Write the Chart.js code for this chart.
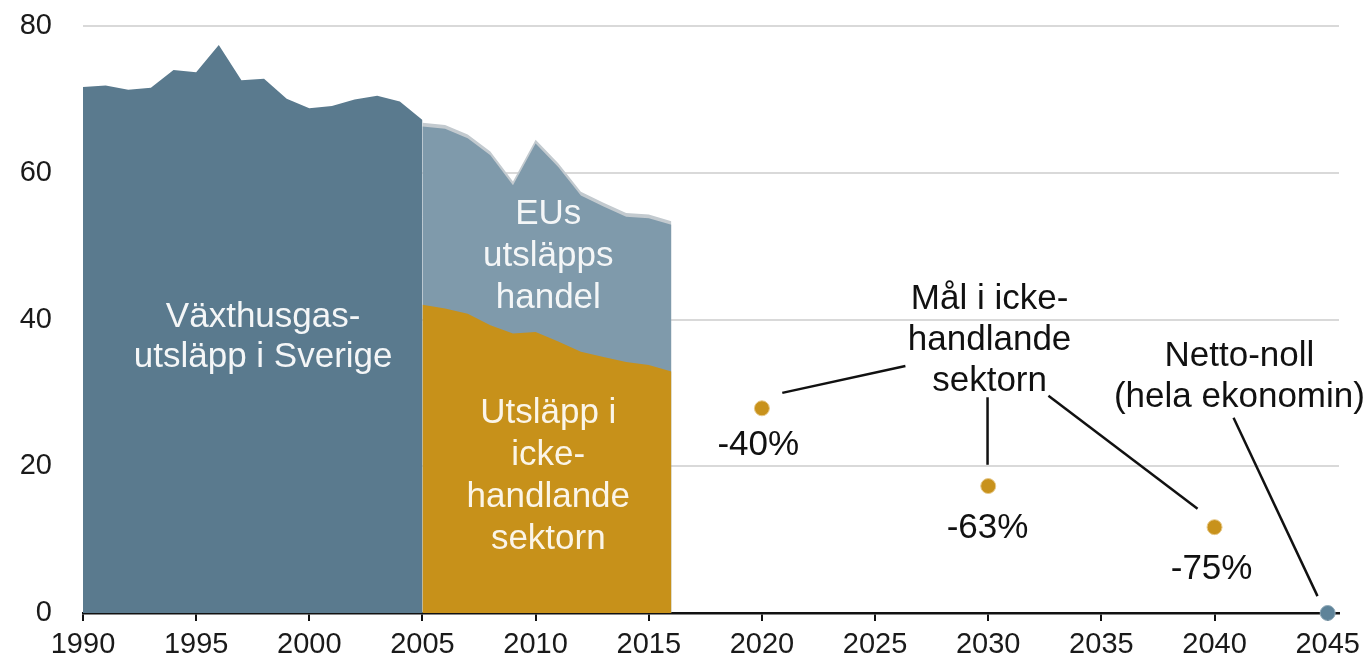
<!DOCTYPE html>
<html>
<head>
<meta charset="utf-8">
<script src="https://cdn.jsdelivr.net/npm/chart.js@4"></script>
<style>
  html, body { margin: 0; padding: 0; background: #ffffff; }
  #wrap { width: 1370px; height: 672px; }
</style>
</head>
<body>
<div id="wrap"><canvas id="c" width="1370" height="672"></canvas></div>
<script>
// ---- data (Mt CO2-ekv) ----
const swedenYears = [1990,1991,1992,1993,1994,1995,1996,1997,1998,1999,2000,2001,2002,2003,2004,2005];
const swedenTotal = [71.7,71.9,71.3,71.6,74.0,73.7,77.4,72.6,72.8,70.1,68.8,69.1,70.0,70.5,69.7,67.2];

const splitYears = [2005,2006,2007,2008,2009,2010,2011,2012,2013,2014,2015,2016];
const totalWithOther = [66.8,66.5,65.2,62.9,58.8,64.5,61.3,57.4,55.9,54.5,54.3,53.4];
const etsPlusNonTrading = [66.3,66.0,64.7,62.4,58.3,64.0,60.8,56.9,55.4,54.0,53.8,52.9];
const nonTrading = [42.0,41.5,40.8,39.2,38.1,38.3,37.0,35.6,34.9,34.2,33.8,32.9];

const targetYears = [2020,2030,2040];
const targetValues = [27.9,17.3,11.7];
const targetLabels = ['-40%','-63%','-75%'];

const netZeroYears = [2045];
const netZeroValues = [0];

const xTickYears = [1990,1995,2000,2005,2010,2015,2020,2025,2030,2035,2040,2045];
const yTickValues = [0,20,40,60,80];

const toXY = (xs, ys) => xs.map((v, i) => ({ x: v, y: ys[i] }));

// ---- annotations (data coordinates) ----
const FONT = '"Liberation Sans", Arial, Helvetica, sans-serif';
const textBlocks = [
  { x: 1997.96, y: 40.25, lh: 40, color: '#f4f6f7', lines: ['Växthusgas-', 'utsläpp i Sverige'] },
  { x: 2010.56, y: 54.3, lh: 42, color: '#f4f6f7', lines: ['EUs', 'utsläpps', 'handel'] },
  { x: 2010.56, y: 27.2, lh: 42, color: '#fbf5e8', lines: ['Utsläpp i', 'icke-', 'handlande', 'sektorn'] },
  { x: 2030.06, y: 42.7, lh: 41, color: '#111111', lines: ['Mål i icke-', 'handlande', 'sektorn'] },
  { x: 2041.1, y: 35.0, lh: 41, color: '#111111', lines: ['Netto-noll', '(hela ekonomin)'] },
  { x: 2019.84, y: 22.8, lh: 0, color: '#111111', lines: [targetLabels[0]] },
  { x: 2029.97, y: 11.6, lh: 0, color: '#111111', lines: [targetLabels[1]] },
  { x: 2039.87, y: 6.0, lh: 0, color: '#111111', lines: [targetLabels[2]] }
];
const leaders = [
  [[2020.9, 30.0], [2026.34, 33.66]],
  [[2029.97, 29.4], [2029.97, 20.2]],
  [[2032.66, 29.6], [2039.25, 14.2]],
  [[2040.84, 26.6], [2044.55, 2.3]]
];

const annotPlugin = {
  id: 'annot',
  afterDatasetsDraw(chart) {
    const { ctx, scales: { x, y } } = chart;
    ctx.save();
    ctx.strokeStyle = '#111111';
    ctx.lineWidth = 2.5;
    for (const l of leaders) {
      ctx.beginPath();
      ctx.moveTo(x.getPixelForValue(l[0][0]), y.getPixelForValue(l[0][1]));
      ctx.lineTo(x.getPixelForValue(l[1][0]), y.getPixelForValue(l[1][1]));
      ctx.stroke();
    }
    ctx.textAlign = 'center';
    ctx.textBaseline = 'middle';
    ctx.font = '35px ' + FONT;
    for (const t of textBlocks) {
      ctx.fillStyle = t.color;
      const px = x.getPixelForValue(t.x), py = y.getPixelForValue(t.y);
      t.lines.forEach((s, i) => ctx.fillText(s, px, py + i * t.lh));
    }
    ctx.restore();
  }
};

const areaDefaults = { pointRadius: 0, borderWidth: 0, tension: 0, fill: 'origin' };

new Chart(document.getElementById('c'), {
  type: 'line',
  data: {
    datasets: [
      { ...areaDefaults, label: 'Icke-handlande sektor', data: toXY(splitYears, nonTrading), backgroundColor: '#c7911a', borderColor: '#c7911a' },
      { ...areaDefaults, label: 'EUs utsläppshandel', data: toXY(splitYears, etsPlusNonTrading), backgroundColor: '#7f9aab', borderColor: '#7f9aab' },
      { ...areaDefaults, label: 'Övrigt', data: toXY(splitYears, totalWithOther), backgroundColor: '#c3cacf', borderColor: '#c3cacf' },
      { ...areaDefaults, label: 'Växthusgasutsläpp i Sverige', data: toXY(swedenYears, swedenTotal), backgroundColor: '#5a7a8e', borderColor: '#5a7a8e' },
      { label: 'Mål', data: toXY(targetYears, targetValues), showLine: false, pointRadius: 7.5, pointBackgroundColor: '#c8921c', pointBorderColor: '#e7c98a', pointBorderWidth: 1, clip: false },
      { label: 'Netto-noll', data: toXY(netZeroYears, netZeroValues), showLine: false, pointRadius: 7.5, pointBackgroundColor: '#5e8399', pointBorderColor: '#8fa9b8', pointBorderWidth: 1, clip: false }
    ]
  },
  options: {
    responsive: false,
    animation: false,
    events: [],
    layout: { padding: { top: 26, right: 31, left: 0, bottom: 0 } },
    plugins: { legend: { display: false }, tooltip: { enabled: false } },
    scales: {
      x: {
        type: 'linear',
        min: 1990,
        max: 2045.5,
        afterBuildTicks: (s) => { s.ticks = xTickYears.map(v => ({ value: v })); },
        afterFit: (s) => { s.height = 59; s.paddingLeft = 0; s.paddingRight = 0; },
        border: { display: true, color: '#111111', width: 2.5 },
        grid: { drawOnChartArea: false, drawTicks: true, tickLength: 8, color: '#111111', lineWidth: 2 },
        ticks: { color: '#1a1a1a', font: { size: 29, family: FONT }, padding: 7, maxRotation: 0, autoSkip: false, callback: (v) => String(v) }
      },
      y: {
        min: 0,
        max: 80,
        afterBuildTicks: (s) => { s.ticks = yTickValues.map(v => ({ value: v })); },
        afterFit: (s) => { s.width = 83; s.paddingTop = 0; s.paddingBottom = 0; },
        border: { display: false },
        grid: { drawTicks: false, color: (c) => c.tick && c.tick.value === 0 ? 'rgba(0,0,0,0)' : '#d9d9d9', lineWidth: 2 },
        ticks: { color: '#1a1a1a', font: { size: 29, family: FONT }, padding: 31, callback: (v) => String(v) }
      }
    }
  },
  plugins: [annotPlugin]
});
</script>
</body>
</html>
